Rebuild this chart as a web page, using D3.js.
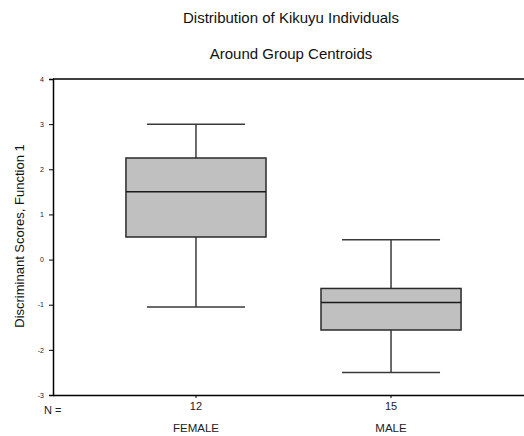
<!DOCTYPE html>
<html><head><meta charset="utf-8">
<script src="https://cdn.jsdelivr.net/npm/d3@7"></script>
<style>
html,body{margin:0;padding:0;background:#fff;}
svg{display:block;font-family:"Liberation Sans",Arial,sans-serif;}
</style></head>
<body>
<svg id="chart" width="524" height="436"></svg>
<script>
const categories = ["FEMALE", "MALE"];
const counts = [12, 15];
const whiskerLow = [-1.05, -2.50];
const q1 = [0.50, -1.56];
const median = [1.50, -0.95];
const q3 = [2.25, -0.64];
const whiskerHigh = [3.00, 0.44];
const yTicks = [-3, -2, -1, 0, 1, 2, 3, 4];

(function () {
const svg = d3.select("#chart");
const mLeft = 53, mTop = 79, mBottom = 395, mRight = 534;

const y = d3.scaleLinear().domain([-3, 4]).range([mBottom, mTop]);
const x = d3.scaleBand().domain(categories).range([mLeft, mRight])
  .paddingInner(0.282).paddingOuter(0.374);

// title
svg.append("text").attr("x", 291).attr("y", 23).attr("text-anchor", "middle")
  .attr("font-size", 15).attr("fill", "#111").text("Distribution of Kikuyu Individuals");
svg.append("text").attr("x", 291).attr("y", 59).attr("text-anchor", "middle")
  .attr("font-size", 15).attr("fill", "#111").text("Around Group Centroids");

// top border
svg.append("line").attr("x1", mLeft).attr("x2", 524).attr("y1", mTop).attr("y2", mTop)
  .attr("stroke", "#000").attr("stroke-width", 1.5);

// y axis
const yAxis = svg.append("g").attr("transform", `translate(${mLeft},0)`)
  .call(d3.axisLeft(y).tickValues(yTicks).tickFormat(d => String(d)).tickSize(4).tickPadding(5));
yAxis.select(".domain").attr("stroke", "#000").attr("stroke-width", 1.5);
yAxis.selectAll(".tick line").attr("stroke", "#000").attr("stroke-width", 1);
yAxis.selectAll(".tick text").attr("font-size", 7).attr("fill", "#222")
  .attr("font-family", "'Liberation Sans',Arial,sans-serif");

// x axis
const xAxis = svg.append("g").attr("transform", `translate(0,${mBottom})`)
  .call(d3.axisBottom(x).tickSize(3).tickFormat((d, i) => counts[i]).tickPadding(4));
xAxis.select(".domain").attr("d", `M${mLeft},0.5H524`).attr("stroke", "#000").attr("stroke-width", 1.5);
xAxis.selectAll(".tick line").attr("stroke", "#000");
xAxis.selectAll(".tick text").attr("font-size", 11).attr("fill", "#222")
  .attr("font-family", "'Liberation Sans',Arial,sans-serif");

svg.append("text").attr("x", 44).attr("y", 414).attr("font-size", 11).attr("fill", "#222").text("N =");

svg.selectAll(".catlabel").data(categories).enter().append("text")
  .attr("class", "catlabel")
  .attr("x", d => x(d) + x.bandwidth() / 2).attr("y", 432)
  .attr("text-anchor", "middle").attr("font-size", 11.5).attr("fill", "#222").text(d => d);

// y label
svg.append("text").attr("transform", `translate(24,236) rotate(-90)`)
  .attr("text-anchor", "middle").attr("font-size", 13).attr("fill", "#111")
  .text("Discriminant Scores, Function 1");

// boxes
const bw = x.bandwidth();
const capW = bw * 0.7;
const g = svg.selectAll(".box").data(categories).enter().append("g").attr("class", "box");
const cx = d => x(d) + bw / 2;
const wc = "#3a3a3a";
g.append("line").attr("x1", cx).attr("x2", cx)
  .attr("y1", (d, i) => y(whiskerHigh[i])).attr("y2", (d, i) => y(q3[i]))
  .attr("stroke", wc).attr("stroke-width", 1.5);
g.append("line").attr("x1", cx).attr("x2", cx)
  .attr("y1", (d, i) => y(q1[i])).attr("y2", (d, i) => y(whiskerLow[i]))
  .attr("stroke", wc).attr("stroke-width", 1.5);
g.append("line").attr("x1", d => cx(d) - capW / 2).attr("x2", d => cx(d) + capW / 2)
  .attr("y1", (d, i) => y(whiskerHigh[i])).attr("y2", (d, i) => y(whiskerHigh[i]))
  .attr("stroke", wc).attr("stroke-width", 1.5);
g.append("line").attr("x1", d => cx(d) - capW / 2).attr("x2", d => cx(d) + capW / 2)
  .attr("y1", (d, i) => y(whiskerLow[i])).attr("y2", (d, i) => y(whiskerLow[i]))
  .attr("stroke", wc).attr("stroke-width", 1.5);
g.append("rect").attr("x", d => x(d)).attr("width", bw)
  .attr("y", (d, i) => y(q3[i])).attr("height", (d, i) => y(q1[i]) - y(q3[i]))
  .attr("fill", "#c0c0c0").attr("stroke", "#2a2a2a").attr("stroke-width", 1.5);
g.append("line").attr("x1", d => x(d)).attr("x2", d => x(d) + bw)
  .attr("y1", (d, i) => y(median[i])).attr("y2", (d, i) => y(median[i]))
  .attr("stroke", "#1a1a1a").attr("stroke-width", 1.5);
})();
</script>
</body></html>
